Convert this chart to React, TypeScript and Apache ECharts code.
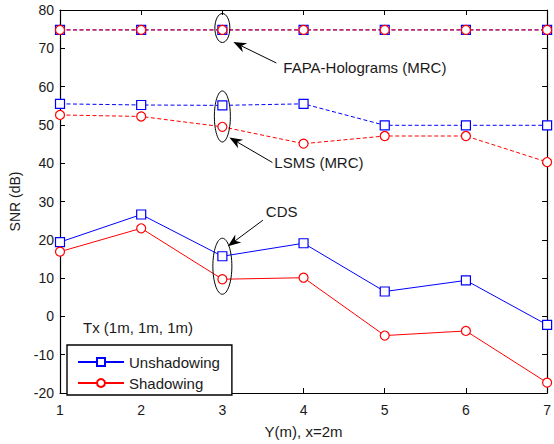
import React, { useEffect, useRef } from "react";
import * as echarts from "echarts";

// Receiver position along Y (m)
const positions = [1, 2, 3, 4, 5, 6, 7];

// SNR (dB) per scheme
const fapaUnshadowing = [74.8, 74.8, 74.8, 74.8, 74.8, 74.8, 74.8];
const fapaShadowing = [74.8, 74.8, 74.8, 74.8, 74.8, 74.8, 74.8];
const lsmsUnshadowing = [55.5, 55.2, 55.1, 55.5, 49.9, 49.9, 49.9];
const lsmsShadowing = [52.6, 52.2, 49.5, 45.1, 47.1, 47.1, 40.3];
const cdsUnshadowing = [19.4, 26.6, 15.7, 19.1, 6.5, 9.4, -2.2];
const cdsShadowing = [16.9, 23.0, 9.7, 10.1, -5.0, -3.8, -17.3];

const legendNames = ["Unshadowing", "Shadowing"];
const yTicks = { min: -20, max: 80, step: 10 };
const xTicks = { min: 1, max: 7, step: 1 };

const FONT = "'Liberation Sans', Arial, sans-serif";
const BLUE = "#0000ff";
const RED = "#ff0000";
const TEXT = "#1a1a1a";

const pairs = (ys: number[]) => positions.map((x, i) => [x, ys[i]]);

function lineSeries(name: string, ys: number[], color: string, dashed: boolean) {
  return {
    name,
    type: "line",
    data: pairs(ys),
    symbol: color === BLUE ? "rect" : "circle",
    symbolSize: 9,
    showSymbol: true,
    itemStyle: { color: "#fff", borderColor: color, borderWidth: 1.2 },
    lineStyle: { color, width: 1, type: dashed ? [4, 2.5] : "solid" },
    emphasis: { disabled: true },
  };
}

function arrow(tail: number[], tip: number[]) {
  const dx = tip[0] - tail[0];
  const dy = tip[1] - tail[1];
  const len = Math.hypot(dx, dy);
  const ux = dx / len;
  const uy = dy / len;
  const nx = -uy;
  const ny = ux;
  const headLen = 13;
  const half = 5;
  const notch = 9;
  const base = [tip[0] - ux * headLen, tip[1] - uy * headLen];
  const back = [tip[0] - ux * notch, tip[1] - uy * notch];
  return [
    {
      type: "line",
      shape: { x1: tail[0], y1: tail[1], x2: back[0], y2: back[1] },
      style: { stroke: "#000", lineWidth: 1 },
    },
    {
      type: "polygon",
      shape: {
        points: [
          tip,
          [base[0] + nx * half, base[1] + ny * half],
          back,
          [base[0] - nx * half, base[1] - ny * half],
        ],
      },
      style: { fill: "#000" },
    },
  ];
}

export default function App() {
  const ref = useRef<HTMLDivElement>(null);

  useEffect(() => {
    const chart = echarts.init(ref.current!, null, { renderer: "svg" });

    const axisCommon = {
      axisLine: { show: true, onZero: false, lineStyle: { color: "#000", width: 1.2 } },
      axisTick: { show: true, inside: true, length: 5, lineStyle: { color: "#000", width: 1 } },
      splitLine: { show: false },
    };

    chart.setOption({
      animation: false,
      backgroundColor: "#fff",
      textStyle: { fontFamily: FONT },
      grid: { left: 59, right: 6, top: 10, bottom: 44, containLabel: false },
      xAxis: [
        {
          type: "value",
          min: xTicks.min,
          max: xTicks.max,
          interval: xTicks.step,
          position: "bottom",
          name: "Y(m), x=2m",
          nameLocation: "middle",
          nameGap: 31,
          nameTextStyle: { fontSize: 15, color: TEXT, fontFamily: FONT },
          axisLabel: { fontSize: 14, color: TEXT, fontFamily: FONT, margin: 10 },
          ...axisCommon,
        },
        {
          type: "value",
          min: xTicks.min,
          max: xTicks.max,
          interval: xTicks.step,
          position: "top",
          axisLabel: { show: false },
          ...axisCommon,
        },
      ],
      yAxis: [
        {
          type: "value",
          min: yTicks.min,
          max: yTicks.max,
          interval: yTicks.step,
          position: "left",
          name: "SNR (dB)",
          nameLocation: "middle",
          nameGap: 38,
          nameTextStyle: { fontSize: 14, color: TEXT, fontFamily: FONT },
          axisLabel: { fontSize: 14, color: TEXT, fontFamily: FONT, margin: 6 },
          ...axisCommon,
        },
        {
          type: "value",
          min: yTicks.min,
          max: yTicks.max,
          interval: yTicks.step,
          position: "right",
          axisLabel: { show: false },
          ...axisCommon,
        },
      ],
      legend: {
        data: legendNames,
        orient: "vertical",
        left: 67,
        top: 345,
        itemWidth: 46,
        itemHeight: 10,
        itemGap: 5,
        padding: [9, 12, 4, 10],
        borderColor: "#000",
        borderWidth: 1.4,
        backgroundColor: "#fff",
        selectedMode: false,
        textStyle: { fontSize: 15, lineHeight: 16, color: TEXT, fontFamily: FONT },
      },
      series: [
        lineSeries("Unshadowing", cdsUnshadowing, BLUE, false),
        lineSeries("Shadowing", cdsShadowing, RED, false),
        lineSeries("LSMS (MRC) Unshadowing", lsmsUnshadowing, BLUE, true),
        lineSeries("LSMS (MRC) Shadowing", lsmsShadowing, RED, true),
        lineSeries("FAPA-Holograms (MRC) Unshadowing", fapaUnshadowing, BLUE, true),
        lineSeries("FAPA-Holograms (MRC) Shadowing", fapaShadowing, RED, true),
      ],
    });

    const px = (x: number, y: number) =>
      chart.convertToPixel({ gridIndex: 0 }, [x, y]) as number[];

    // Group markers: an ellipse around x = 3 for each scheme, with a pointer arrow and label
    const groups = [
      { center: px(3, 75.3), rx: 7.5, ry: 14.5, tip: [11, 14], tail: [54, 35], label: "FAPA-Holograms (MRC)", text: [61, 39] },
      { center: px(3, 52.2), rx: 8, ry: 25.5, tip: [7, 21], tail: [50, 46], label: "LSMS (MRC)", text: [52, 46] },
      { center: px(3, 13.1), rx: 9.5, ry: 28, tip: [5.5, -20], tail: [40.5, -46], label: "CDS", text: [43.5, -55] },
    ];

    const graphic: any[] = [];
    groups.forEach((g) => {
      const [cx, cy] = g.center;
      graphic.push({
        type: "ellipse",
        shape: { cx, cy, rx: g.rx, ry: g.ry },
        style: { fill: "none", stroke: "#000", lineWidth: 1 },
        z: 10,
      });
      graphic.push(
        ...arrow([cx + g.tail[0], cy + g.tail[1]], [cx + g.tip[0], cy + g.tip[1]]).map((e) => ({ ...e, z: 10 }))
      );
      graphic.push({
        type: "text",
        x: cx + g.text[0],
        y: cy + g.text[1],
        style: {
          text: g.label,
          font: `15px ${FONT}`,
          fill: TEXT,
          textAlign: "left",
          textVerticalAlign: "middle",
        },
        z: 10,
      });
    });

    graphic.push({
      type: "text",
      x: 83,
      y: 327,
      style: {
        text: "Tx (1m, 1m, 1m)",
        font: `15px ${FONT}`,
        fill: TEXT,
        textAlign: "left",
        textVerticalAlign: "middle",
      },
      z: 10,
    });

    chart.setOption({ graphic });

    return () => chart.dispose();
  }, []);

  return (
    <div
      ref={ref}
      style={{ position: "fixed", left: 0, top: 0, width: 554, height: 444 }}
    />
  );
}
